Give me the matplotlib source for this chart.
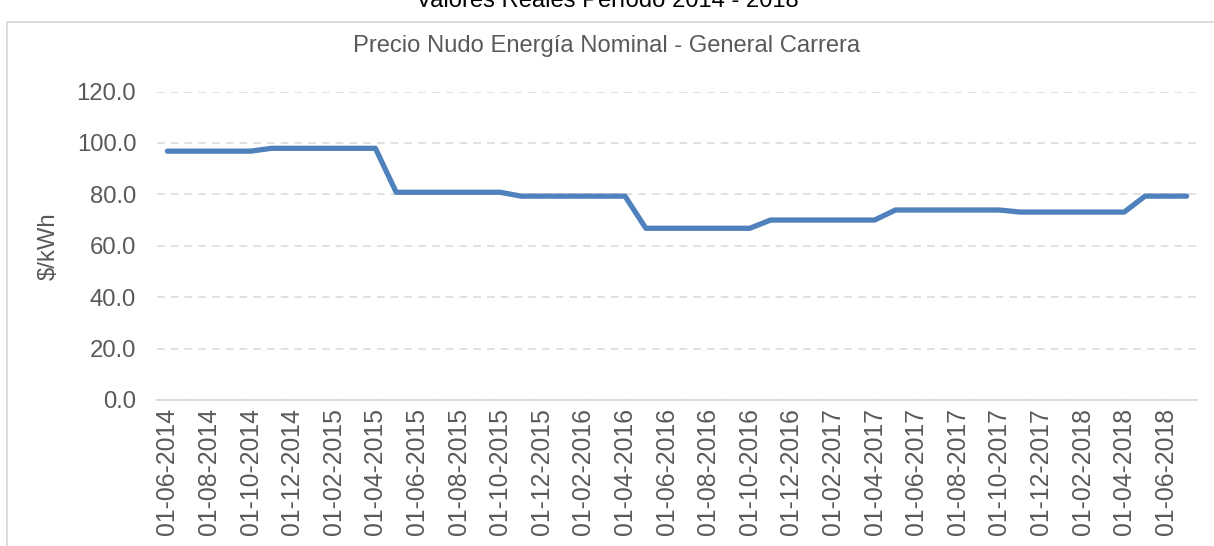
import matplotlib.pyplot as plt
from matplotlib.patches import Rectangle

# Precio nudo energía, mensual desde 01-06-2014 hasta 01-07-2018
meses = ['01-%02d-%d' % (m, a) for a in range(2014, 2019) for m in range(1, 13)]
meses = meses[5:5 + 50]
precio = ([96.8] * 5 + [97.9] * 6 + [80.8] * 6 + [79.3] * 6 + [66.8] * 6 +
          [70.0] * 6 + [73.9] * 6 + [73.1] * 6 + [79.3] * 3)

plt.rcParams['font.family'] = ['Liberation Sans', 'DejaVu Sans']
gris = '#595959'

fig = plt.figure(figsize=(12.14, 5.46), dpi=100)
ax = fig.add_axes([157 / 1214, 146 / 546, 1040 / 1214, 308.5 / 546])

x = list(range(len(precio)))
ax.plot(x, precio, color='#4F81BD', linewidth=3.8, solid_capstyle='round',
        solid_joinstyle='round', zorder=3)

ax.set_xlim(-0.5, len(precio) - 0.5)
ax.set_ylim(0, 120)
ax.set_yticks(range(0, 121, 20))
ax.set_yticklabels(['%.1f' % v for v in range(0, 121, 20)])
ax.set_xticks(x[::2])
ax.set_xticklabels(meses[::2], rotation=90)

ax.grid(axis='y', color='#D9D9D9', linestyle=(0, (5, 4)), linewidth=1.1)
ax.set_axisbelow(True)
for s in ['top', 'right', 'left']:
    ax.spines[s].set_visible(False)
ax.spines['bottom'].set_color('#D9D9D9')
ax.spines['bottom'].set_linewidth(1.3)
ax.tick_params(axis='y', length=0, labelsize=17.2, colors=gris, pad=15)
ax.tick_params(axis='x', length=0, labelsize=17.8, colors=gris, pad=6)

ax.set_ylabel('$/kWh', fontsize=17.2, color=gris, labelpad=12)
fig.text(0.5, 1 - 46 / 546, 'Precio Nudo Energía Nominal - General Carrera',
         ha='center', va='center', fontsize=17.1, color=gris)
fig.text(0.5, 1 - 1 / 546, 'Valores Reales Período 2014 - 2018',
         ha='center', va='center', fontsize=17.1, color='black')

# marco del gráfico
fig.patches.append(Rectangle((7 / 1214, -0.05), 1.2, 1 - 22 / 546 + 0.05,
                             transform=fig.transFigure, fill=False,
                             edgecolor='#D9D9D9', linewidth=1.3))

fig.savefig('out.png', dpi=100)
